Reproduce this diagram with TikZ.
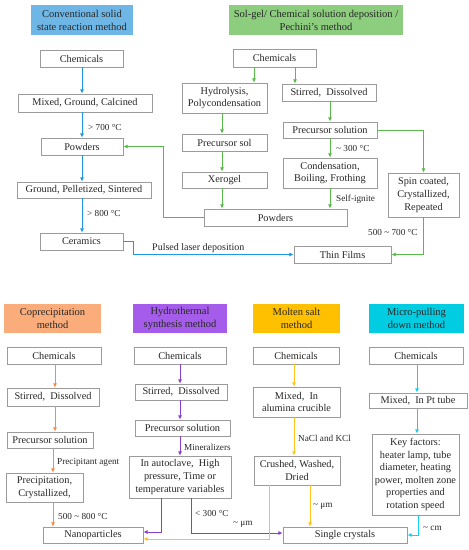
\documentclass[tikz,border=0pt]{standalone}
\usepackage{fontspec}
\setmainfont{Liberation Serif}
\usetikzlibrary{arrows.meta}
\definecolor{cblue}{RGB}{110,182,230}
\definecolor{lblue}{RGB}{30,152,224}
\definecolor{cgreen}{RGB}{140,206,125}
\definecolor{lgreen}{RGB}{88,186,72}
\definecolor{corange}{RGB}{250,172,122}
\definecolor{lorange}{RGB}{246,138,70}
\definecolor{cpurple}{RGB}{166,92,234}
\definecolor{lpurple}{RGB}{140,62,200}
\definecolor{camber}{RGB}{255,192,0}
\definecolor{lamber}{RGB}{255,196,30}
\definecolor{ccyan}{RGB}{0,204,226}
\definecolor{lcyan}{RGB}{20,210,240}
\definecolor{boxgray}{RGB}{155,155,155}
\definecolor{txt}{RGB}{40,40,40}
\newcommand\bx[7]{\node[#6, minimum width={(#4)-(#2)}, minimum height={(#5)-(#3)}] (#1) at ({((#2)+(#4))/2},{((#3)+(#5))/2}) {#7};}
\tikzset{
  pbox/.style={draw=boxgray, fill=white, line width=0.9pt, inner sep=1pt, align=center, text=txt, font=\fontsize{10.3}{12.6}\selectfont},
  ttl/.style={fill=#1, draw=none, inner sep=1pt, align=center, text=txt, font=\fontsize{10.5}{12.9}\selectfont},
  lbl/.style={inner sep=0pt, anchor=west, text=txt, font=\fontsize{9.2}{11}\selectfont},
  conn/.style={line width=0.95pt, draw=#1, -{Latex[length=4.2pt,width=4.2pt]}},
}
\begin{document}
\begin{tikzpicture}[x=1pt,y=-1pt]
\fill[white] (0,0) rectangle (469,550);
\useasboundingbox (0,0) rectangle (469,550);
% ---- Conventional solid state
\bx{t1}{31}{5}{133}{35}{ttl=cblue}{Conventional solid\\state reaction method}
\bx{a1}{40}{50}{123}{67}{pbox}{Chemicals}
\bx{a2}{18}{94}{152}{112}{pbox}{Mixed, Ground, Calcined}
\bx{a3}{41}{138}{123}{155}{pbox}{Powders}
\bx{a4}{17}{182}{151}{198}{pbox}{Ground, Pelletized, Sintered}
\bx{a5}{40}{233}{123}{250}{pbox}{Ceramics}
% ---- Sol-gel
\bx{t2}{229}{5}{403}{35}{ttl=cgreen}{Sol-gel/ Chemical solution deposition /\\Pechini’s method}
\bx{b1}{233}{49}{316}{67}{pbox}{Chemicals}
\bx{b2}{182}{83}{267}{113}{pbox}{Hydrolysis,\\Polycondensation}
\bx{b3}{282}{84}{376}{101}{pbox}{Stirred,\ \ Dissolved}
\bx{b4}{182}{134}{267}{151}{pbox}{Precursor sol}
\bx{b5}{283}{122}{377}{138}{pbox}{Precursor solution}
\bx{b6}{182}{172}{267}{188}{pbox}{Xerogel}
\bx{b7}{283}{158}{377}{188}{pbox}{Condensation,\\Boiling, Frothing}
\bx{b8}{204}{209}{347}{226}{pbox}{Powders}
\bx{b9}{388}{173}{459}{217}{pbox}{Spin coated,\\Crystallized,\\Repeated}
\bx{b10}{294}{246}{391}{263}{pbox}{Thin Films}
% ---- Coprecipitation
\bx{t3}{4}{304}{101}{333}{ttl=corange}{Coprecipitation\\method}
\bx{c1}{7}{347}{101}{364}{pbox}{Chemicals}
\bx{c2}{7}{388}{99}{406}{pbox}{Stirred,\ \ Dissolved}
\bx{c3}{7}{432}{93}{448}{pbox}{Precursor solution}
\bx{c4}{6}{473}{83}{502}{pbox}{Precipitation,\\Crystallized,}
\bx{c5}{43}{527}{143}{543}{pbox}{Nanoparticles}
% ---- Hydrothermal
\bx{t4}{133}{304}{227}{333}{ttl=cpurple}{Hydrothermal\\synthesis method}
\bx{d1}{134}{347}{226}{364}{pbox}{Chemicals}
\bx{d2}{135}{384}{227}{400}{pbox}{Stirred,\ \ Dissolved}
\bx{d3}{135}{420}{230}{436}{pbox}{Precursor solution}
\bx{d4}{129}{456}{231}{498}{pbox}{In autoclave,\ \ High\\pressure, Time or\\temperature variables}
% ---- Molten salt
\bx{t5}{253}{304}{340}{333}{ttl=camber}{Molten salt\\method}
\bx{e1}{253}{347}{339}{364}{pbox}{Chemicals}
\bx{e2}{253}{387}{340}{417}{pbox}{Mixed,\ \ In\\alumina crucible}
\bx{e3}{254}{456}{340}{485}{pbox}{Crushed, Washed,\\Dried}
\bx{e4}{283}{527}{407}{543}{pbox}{Single crystals}
% ---- Micro-pulling down
\bx{t6}{369}{304}{464}{333}{ttl=ccyan}{Micro-pulling\\down method}
\bx{f1}{369}{347}{463}{364}{pbox}{Chemicals}
\bx{f2}{369}{393}{467}{408}{pbox}{Mixed,\ \ In Pt tube}
\bx{f3}{372}{434}{459}{515}{pbox}{Key factors:\\heater lamp, tube\\diameter, heating\\power, molten zone\\properties and\\rotation speed}
% ---- blue connectors
\draw[conn=lblue] (a1.south -| 82,0) -- (a2.north -| 82,0);
\draw[conn=lblue] (a2.south -| 82,0) -- (a3.north -| 82,0);
\draw[conn=lblue] (a3.south -| 82,0) -- (a4.north -| 82,0);
\draw[conn=lblue] (a4.south -| 82,0) -- (a5.north -| 82,0);
\draw[conn=lblue] (a5.east) -- (a5.east -| 133,0) |- (b10.west);
% ---- green connectors
\draw[conn=lgreen] (b1.south -| 254,0) -- (b2.north -| 254,0);
\draw[conn=lgreen] (b1.south -| 295,0) -- (b3.north -| 295,0);
\draw[conn=lgreen] (b2.south -| 222,0) -- (b4.north -| 222,0);
\draw[conn=lgreen] (b4.south -| 222,0) -- (b6.north -| 222,0);
\draw[conn=lgreen] (b6.south -| 222,0) -- (b8.north -| 222,0);
\draw[conn=lgreen] (b3.south -| 330,0) -- (b5.north -| 330,0);
\draw[conn=lgreen] (b5.south -| 330,0) -- (b7.north -| 330,0);
\draw[conn=lgreen] (b7.south -| 330,0) -- (b8.north -| 330,0);
\draw[conn=lgreen] (b5.east) -| (b9.north);
\draw[conn=lgreen] (b9.south) |- (b10.east);
\draw[conn=lgreen] (b8.west) -- (b8.west -| 163,0) |- (a3.east);
% ---- orange connectors
\draw[conn=lorange] (c1.south -| 55,0) -- (c2.north -| 55,0);
\draw[conn=lorange] (c2.south -| 55,0) -- (c3.north -| 55,0);
\draw[conn=lorange] (c3.south -| 53,0) -- (c4.north -| 53,0);
\draw[conn=lorange] (c4.south -| 53,0) -- (c5.north -| 53,0);
% ---- purple connectors
\draw[conn=lpurple] (d1.south -| 180,0) -- (d2.north -| 180,0);
\draw[conn=lpurple] (d2.south -| 180,0) -- (d3.north -| 180,0);
\draw[conn=lpurple] (d3.south -| 180,0) -- (d4.north -| 180,0);
\draw[conn=lpurple] (d4.south -| 161,0) |- ([yshift=3pt]c5.east);
\draw[conn=lpurple] (d4.south -| 191,0) |- ([yshift=2pt]e4.west);
% ---- amber connectors
\draw[conn=lamber] (e1.south -| 294,0) -- (e2.north -| 294,0);
\draw[conn=lamber] (e2.south -| 294,0) -- (e3.north -| 294,0);
\draw[conn=lamber] (e3.south -| 269,0) |- ([yshift=-4pt]c5.east);
\draw[conn=lamber] (e3.south -| 310,0) -- (e4.north -| 310,0);
% ---- cyan connectors
\draw[conn=lcyan] (f1.south -| 417,0) -- (f2.north -| 417,0);
\draw[conn=lcyan] (f2.south -| 417,0) -- (f3.north -| 417,0);
\draw[conn=lcyan] (f3.south -| 418,0) |- (e4.east);
% ---- labels
\node[lbl] (l1) at (88,127) {> 700 °C};
\node[lbl] (l2) at (87,213) {> 800 °C};
\node[lbl, font=\fontsize{10}{12}\selectfont] (l3) at (152,248) {Pulsed laser deposition};
\node[lbl] (l4) at (336,148) {\textasciitilde{} 300 °C};
\node[lbl] (l5) at (336,199) {Self-ignite};
\node[lbl] (l6) at (368,232) {500 \textasciitilde{} 700 °C};
\node[lbl] (l7) at (57,462) {Precipitant agent};
\node[lbl] (l8) at (58,516) {500 \textasciitilde{} 800 °C};
\node[lbl] (l9) at (184,447) {Mineralizers};
\node[lbl] (l10) at (195,513) {< 300 °C};
\node[lbl] (l11) at (233,524) {\textasciitilde{} μm};
\node[lbl] (l12) at (298,438) {NaCl and KCl};
\node[lbl] (l13) at (313,506) {\textasciitilde{} μm};
\node[lbl] (l14) at (423,528) {\textasciitilde{} cm};
\end{tikzpicture}
\end{document}
